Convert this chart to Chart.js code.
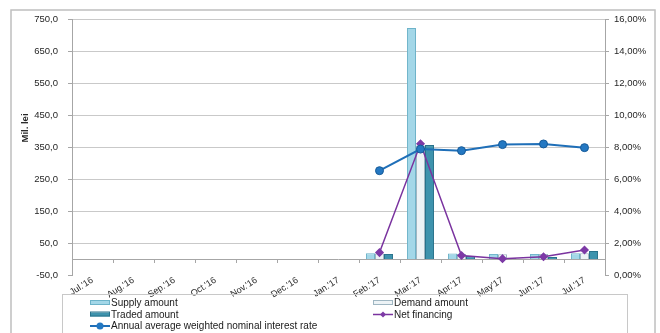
<!DOCTYPE html>
<html>
<head>
<meta charset="utf-8">
<script src="https://cdn.jsdelivr.net/npm/chart.js@4.4.1/dist/chart.umd.min.js"></script>
<style>
  html, body { margin: 0; padding: 0; background: #ffffff; }
  #wrap { position: relative; width: 660px; height: 333px; }
</style>
</head>
<body>
<div id="wrap"><canvas id="c" width="660" height="333"></canvas></div>
<script>
// Months on the category axis
const months = ["Jul.'16", "Aug.'16", "Sep.'16", "Oct.'16", "Nov.'16", "Dec.'16", "Jan.'17",
                "Feb.'17", "Mar.'17", "Apr.'17", "May'17", "Jun.'17", "Jul.'17"];

// Amounts, Mil. lei (left axis)
const supplyAmount = [null, null, null, null, null, null, null, 18, 722, 17, 16, 16, 18];
const demandAmount = [null, null, null, null, null, null, null, 17, 355, 16, 15, 16, 18];
const tradedAmount = [null, null, null, null, null, null, null, 16, 356, 9, 2, 6, 25];
const netFinancing = [null, null, null, null, null, null, null, 20, 360, 11, 1, 7, 28];

// Annual average weighted nominal interest rate, % (right axis)
const interestRate = [null, null, null, null, null, null, null, 6.52, 7.87, 7.77, 8.15, 8.19, 7.96];

// Axis ranges
const leftMin = -50, leftMax = 750, leftStep = 100;
const rightMin = 0, rightMax = 16, rightStep = 2;

const FONT = "'Liberation Sans', Arial, sans-serif";
const GRID = '#c9c9c9';
const AXIS = '#a6a6a6';

const colors = {
  supply: { fill: '#a3d7e8', border: '#6db3c9' },
  demand: { fill: '#edf3f6', border: '#9fb6c2' },
  traded: { fill: '#3e93ad', border: '#28728b' },
  net:    { line: '#7a339f', point: '#7d3aa6' },
  rate:   { line: '#1f6fb8', point: '#2478c2', pointBorder: '#155a98' }
};

const fmtComma = (v, d) => v.toFixed(d).replace('.', ',');

// Frame, zero line, axis title and legend drawn around the chart
const decorations = {
  id: 'decorations',
  beforeDatasetsDraw(chart) {
    const { ctx, chartArea, scales } = chart;
    const y0 = scales.y.getPixelForValue(0);
    ctx.save();
    ctx.strokeStyle = AXIS;
    ctx.lineWidth = 1;
    ctx.beginPath();
    ctx.moveTo(chartArea.left, Math.round(y0) + 0.5);
    ctx.lineTo(chartArea.right, Math.round(y0) + 0.5);
    for (let i = 0; i <= months.length; i++) {
      const x = Math.round(scales.x.getPixelForValue(i - 0.5)) + 0.5;
      ctx.moveTo(x, Math.round(y0));
      ctx.lineTo(x, Math.round(y0) + 4);
    }
    ctx.stroke();
    ctx.restore();
  },
  afterDraw(chart) {
    const { ctx } = chart;
    ctx.save();
    // outer frame
    ctx.strokeStyle = '#bfbfbf';
    ctx.lineWidth = 1.5;
    ctx.strokeRect(11, 10, 644, 340);

    // left axis title
    ctx.fillStyle = '#262626';
    ctx.font = "bold 9.5px " + FONT;
    ctx.textAlign = 'center';
    ctx.textBaseline = 'middle';
    ctx.translate(25, 128);
    ctx.rotate(-Math.PI / 2);
    ctx.fillText('Mil. lei', 0, 0);
    ctx.setTransform(1, 0, 0, 1, 0, 0);

    // legend box
    ctx.strokeStyle = '#c8c8c8';
    ctx.lineWidth = 1;
    ctx.strokeRect(62.5, 294.5, 565, 50);

    const ds = chart.data.datasets;
    const byLabel = l => ds.find(d => d.label === l);
    const entries = [
      { d: byLabel('Supply amount'), x: 90, y: 303 },
      { d: byLabel('Demand amount'), x: 373, y: 303 },
      { d: byLabel('Traded amount'), x: 90, y: 314.5 },
      { d: byLabel('Net financing'), x: 373, y: 314.5 },
      { d: byLabel('Annual average weighted nominal interest rate'), x: 90, y: 326 }
    ];
    ctx.font = "10px " + FONT;
    ctx.textAlign = 'left';
    ctx.textBaseline = 'middle';
    entries.forEach(({ d, x, y }) => {
      if (d.type === 'bar') {
        ctx.fillStyle = d.backgroundColor;
        ctx.strokeStyle = d.borderColor;
        ctx.fillRect(x, y - 2, 20, 4);
        ctx.strokeRect(x + 0.5, y - 2.5, 19, 4);
      } else {
        ctx.strokeStyle = d.borderColor;
        ctx.lineWidth = d.borderWidth;
        ctx.beginPath();
        ctx.moveTo(x, y);
        ctx.lineTo(x + 20, y);
        ctx.stroke();
        ctx.fillStyle = d.pointBackgroundColor;
        ctx.beginPath();
        if (d.pointStyle === 'rectRot') {
          const r = 3;
          ctx.moveTo(x + 10, y - r); ctx.lineTo(x + 10 + r, y);
          ctx.lineTo(x + 10, y + r); ctx.lineTo(x + 10 - r, y);
          ctx.closePath();
        } else {
          ctx.arc(x + 10, y, 3.5, 0, Math.PI * 2);
        }
        ctx.fill();
        ctx.lineWidth = 1;
      }
      ctx.fillStyle = '#1a1a1a';
      ctx.fillText(d.label, x + 21, y + 0.5);
    });
    ctx.restore();
  }
};

new Chart(document.getElementById('c'), {
  data: {
    labels: months,
    datasets: [
      {
        type: 'line', label: 'Annual average weighted nominal interest rate',
        data: interestRate, yAxisID: 'y1', order: 0,
        borderColor: colors.rate.line, borderWidth: 2,
        pointStyle: 'circle', pointRadius: 4,
        pointBackgroundColor: colors.rate.point, pointBorderColor: colors.rate.pointBorder,
        pointBorderWidth: 1, spanGaps: false
      },
      {
        type: 'line', label: 'Net financing',
        data: netFinancing, yAxisID: 'y', order: 1,
        borderColor: colors.net.line, borderWidth: 1.5,
        pointStyle: 'rectRot', pointRadius: 3.5,
        pointBackgroundColor: colors.net.point, pointBorderColor: colors.net.point
      },
      {
        type: 'bar', label: 'Supply amount', data: supplyAmount, yAxisID: 'y', order: 2,
        backgroundColor: colors.supply.fill, borderColor: colors.supply.border, borderWidth: 1
      },
      {
        type: 'bar', label: 'Demand amount', data: demandAmount, yAxisID: 'y', order: 3,
        backgroundColor: colors.demand.fill, borderColor: colors.demand.border, borderWidth: 1
      },
      {
        type: 'bar', label: 'Traded amount', data: tradedAmount, yAxisID: 'y', order: 4,
        backgroundColor: colors.traded.fill, borderColor: colors.traded.border, borderWidth: 1
      }
    ]
  },
  options: {
    responsive: false,
    animation: false,
    layout: { padding: { top: 19, left: 0, right: 0, bottom: 0 } },
    datasets: { bar: { categoryPercentage: 0.66, barPercentage: 1.0 } },
    plugins: { legend: { display: false }, tooltip: { enabled: false } },
    scales: {
      x: {
        offset: true,
        grid: { display: false, drawTicks: false },
        border: { display: false },
        ticks: {
          autoSkip: false, minRotation: 32, maxRotation: 32, padding: 0,
          color: '#262626', font: { family: FONT, size: 9 }
        },
        afterFit(scale) { scale.height = 58; }
      },
      y: {
        position: 'left', min: leftMin, max: leftMax,
        grid: {
          color: c => (c.tick && c.tick.value === leftMin ? 'rgba(0,0,0,0)' : GRID),
          tickColor: AXIS, tickLength: 4, lineWidth: 1
        },
        border: { display: true, color: AXIS },
        ticks: {
          stepSize: leftStep, padding: 10, color: '#262626',
          font: { family: FONT, size: 9.5 },
          callback: v => fmtComma(v, 1)
        },
        afterFit(scale) { scale.width = 72; }
      },
      y1: {
        position: 'right', min: rightMin, max: rightMax,
        grid: { drawOnChartArea: false, tickColor: AXIS, tickLength: 4 },
        border: { display: true, color: AXIS },
        ticks: {
          stepSize: rightStep, padding: 5, color: '#262626',
          font: { family: FONT, size: 9.5 },
          callback: v => fmtComma(v, 2) + '%'
        },
        afterFit(scale) { scale.width = 55; }
      }
    }
  },
  plugins: [decorations]
});
</script>
</body>
</html>
